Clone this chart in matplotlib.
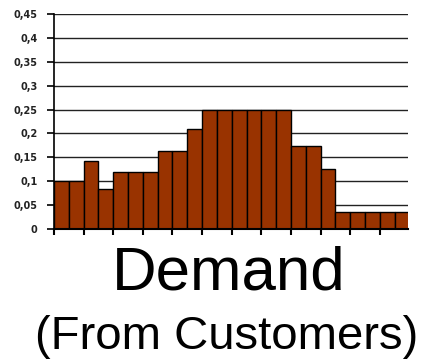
import numpy as np
import matplotlib
matplotlib.use('Agg')
import matplotlib.pyplot as plt
from matplotlib.ticker import FuncFormatter

# demand probability per period
demand = [0.1, 0.1, 0.143, 0.083, 0.12, 0.12, 0.12, 0.163, 0.163, 0.21,
          0.25, 0.25, 0.25, 0.25, 0.25, 0.25, 0.173, 0.173, 0.126,
          0.035, 0.035, 0.035, 0.035, 0.035]
yticks = [0, 0.05, 0.1, 0.15, 0.2, 0.25, 0.3, 0.35, 0.4, 0.45]

plt.rcParams['font.family'] = ['Liberation Sans', 'DejaVu Sans']

fig = plt.figure(figsize=(4.22, 3.6), dpi=100)
ax = fig.add_axes([54/422, 1-229/360, 354/422, 215/360])

x = np.arange(len(demand))
ax.bar(x, demand, width=1.0, align='edge', color='#993300',
       edgecolor='black', linewidth=1.0, zorder=3)

ax.set_xlim(0, 23.9)
ax.set_ylim(0, 0.45)
ax.set_yticks(yticks)
ax.yaxis.set_major_formatter(FuncFormatter(lambda v, p: ('%g' % round(v, 2)).replace('.', ',')))
ax.set_xticks(np.arange(0, 24, 2))
ax.set_xticklabels([])
ax.grid(axis='y', color='#222222', linewidth=1.0, zorder=1)
ax.tick_params(axis='y', direction='out', length=5, width=1.2, labelsize=7, pad=7)
for lbl in ax.get_yticklabels():
    lbl.set_fontfamily('DejaVu Sans')
    lbl.set_fontweight('bold')
    lbl.set_color('#222222')
ax.tick_params(axis='x', direction='out', length=4, width=1.5)
for s in ['top', 'right']:
    ax.spines[s].set_visible(False)
ax.spines['left'].set_linewidth(1.2)
ax.spines['bottom'].set_linewidth(1.5)
ax.spines['bottom'].set_zorder(4)

fig.text(229/422, 1-289/360, 'Demand', ha='center', va='baseline', fontsize=44.5)
fig.text(226.5/422, 1-349/360, '(From Customers)', ha='center', va='baseline', fontsize=34)

plt.savefig('out.png', dpi=100)
